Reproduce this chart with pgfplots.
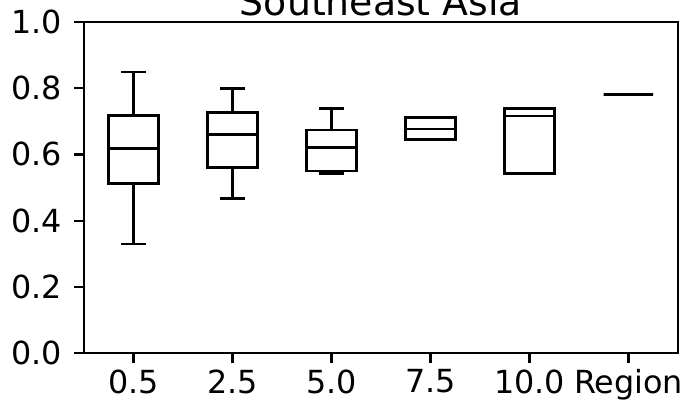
\documentclass[border=0pt]{standalone}
\usepackage{fontspec}
\setmainfont{DejaVu Sans}
\usepackage{pgfplots}
\pgfplotsset{compat=1.18}
\usepgfplotslibrary{statistics}
\begin{document}
\begin{tikzpicture}
\begin{axis}[name=ax, at={(0,0)}, anchor=south west,
 scale only axis, width=297pt, height=165.5pt,
 xmin=0.5, xmax=6.5, ymin=0, ymax=1,
 xtick={1,2,3,4,5,6}, xticklabels={0.5,2.5,5.0,7.5,10.0,Region},
 ytick={0,0.2,0.4,0.6,0.8,1.0},
 axis line style={line width=1.1pt},
 tick style={line width=1.1pt, black},
 major tick length=4.86pt,
 tick align=outside, xtick pos=left, ytick pos=left,
 ticklabel style={font=\fontsize{15.9}{18}\selectfont},
 yticklabel style={xshift=-2.5pt},
 /pgf/number format/assume math mode=true,
 yticklabel style={/pgf/number format/.cd, fixed, fixed zerofill, precision=1},
 boxplot/draw direction=y,
 boxplot/box extend=0.5, boxplot/whisker extend=0.25,
]
\addplot[black, line width=1.39pt, boxplot prepared={draw position=1, lower whisker=0.329, lower quartile=0.512, median=0.618, upper quartile=0.717, upper whisker=0.849}] coordinates {};
\addplot[black, line width=1.39pt, boxplot prepared={draw position=2, lower whisker=0.467, lower quartile=0.561, median=0.660, upper quartile=0.726, upper whisker=0.800}] coordinates {};
\addplot[black, line width=1.39pt, boxplot prepared={draw position=3, lower whisker=0.542, lower quartile=0.550, median=0.620, upper quartile=0.674, upper whisker=0.739}] coordinates {};
\addplot[black, line width=1.39pt, boxplot prepared={draw position=4, lower whisker=0.645, lower quartile=0.645, median=0.677, upper quartile=0.711, upper whisker=0.711}] coordinates {};
\addplot[black, line width=1.39pt, boxplot prepared={draw position=5, lower whisker=0.543, lower quartile=0.543, median=0.716, upper quartile=0.738, upper whisker=0.738}] coordinates {};
\addplot[black, line width=1.39pt, boxplot prepared={draw position=6, lower whisker=0.782, lower quartile=0.782, median=0.782, upper quartile=0.782, upper whisker=0.782}] coordinates {};
\end{axis}
\node[anchor=base, font=\fontsize{18.9}{22}\selectfont] at ([yshift=3.5pt]ax.north) {Southeast Asia};
\pgfresetboundingbox
\useasboundingbox ([shift={(-42pt,-25.5pt)}]ax.south west) rectangle ([shift={(306.5pt,176.5pt)}]ax.south west);
\end{tikzpicture}
\end{document}
